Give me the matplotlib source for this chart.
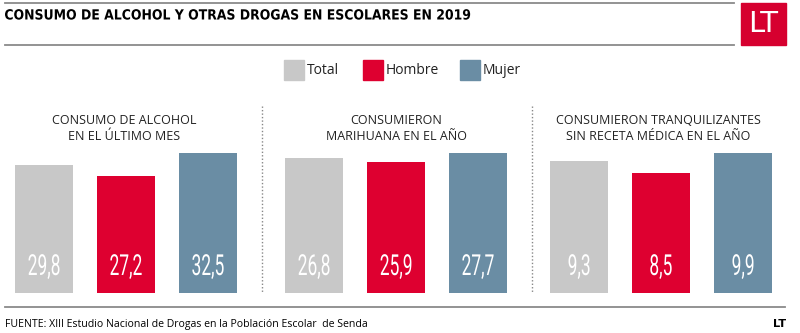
import matplotlib
matplotlib.use("Agg")
import matplotlib.pyplot as plt
from matplotlib.patches import Rectangle, PathPatch
from matplotlib.lines import Line2D
from matplotlib.textpath import TextPath
from matplotlib.font_manager import FontProperties
from matplotlib.transforms import Affine2D

# data
groups = ["Total", "Hombre", "Mujer"]
panel_titles = ["CONSUMO DE ALCOHOL\nEN EL ÚLTIMO MES",
                "CONSUMIERON\nMARIHUANA EN EL AÑO",
                "CONSUMIERON TRANQUILIZANTES\nSIN RECETA MÉDICA EN EL AÑO"]
alcohol = [29.8, 27.2, 32.5]
marihuana = [26.8, 25.9, 27.7]
tranquilizantes = [9.3, 8.5, 9.9]
panel_values = [alcohol, marihuana, tranquilizantes]
colors = ["#C8C8C8", "#DE0030", "#6A8DA4"]

W, H = 800, 333
fig = plt.figure(figsize=(W / 100, H / 100), dpi=100)


def fx(px):
    return px / W


def fy(py):
    return 1 - py / H


def hline(x0, x1, y, color="#8a8a8a", lw=1.3, ls="-"):
    fig.add_artist(Line2D([fx(x0), fx(x1)], [fy(y), fy(y)], color=color, lw=lw, ls=ls))


def narrow_text(s, x, base_y, size_px, xscale, color, family="DejaVu Sans",
                weight="normal", align="center"):
    # condensed lettering: scale a text path horizontally (pixel coords, y from top)
    tp = TextPath((0, 0), s, size=size_px, prop=FontProperties(family=family, weight=weight))
    ext = tp.get_extents()
    w = ext.width * xscale
    x0 = x - w / 2 if align == "center" else x
    tr = Affine2D().scale(xscale, 1).translate(x0 - ext.x0 * xscale, H - base_y)
    fig.add_artist(PathPatch(tp, transform=tr, color=color, lw=0))


# header
hline(5, 734, 3)
hline(5, 734, 45)
narrow_text("CONSUMO DE ALCOHOL Y OTRAS DROGAS EN ESCOLARES EN 2019", 5, 19.5, 14,
            0.89, "black", weight="bold", align="left")
fig.add_artist(Rectangle((fx(741), fy(45)), fx(45), 42 / H, color="#D6002F",
                         transform=fig.transFigure))
fig.text(fx(763.5), fy(24), "LT", color="white", fontsize=21, family="DejaVu Sans",
         ha="center", va="center")

# legend
leg_x = [284, 363, 460]
for lx, g, c in zip(leg_x, groups, colors):
    fig.add_artist(Rectangle((fx(lx), fy(80)), fx(20), 20 / H, color=c,
                             transform=fig.transFigure))
    fig.text(fx(lx + 23), fy(70.5), g, fontsize=10, family="Open Sans",
             va="center", ha="left", color="#222222")

# panels
panel_left = [15, 285, 550]
title_cx = [124, 396, 658]
for i in range(3):
    vals = panel_values[i]
    ax = fig.add_axes([fx(panel_left[i]), fy(293), fx(222), 140 / H])
    bars = ax.bar(range(3), vals, width=0.707, color=colors)
    ax.set_xlim(-0.354, 2.354)
    ax.set_ylim(0, max(vals))
    ax.axis("off")
    for j, v in enumerate(vals):
        cx = panel_left[i] + 222 * (j + 0.354) / 2.708
        narrow_text(("%.1f" % v).replace(".", ","), cx, 275, 29, 0.6, "white",
                    family="Roboto")
    fig.text(fx(title_cx[i]), fy(129), panel_titles[i], fontsize=9,
             family="Open Sans", ha="center", va="center", linespacing=1.3,
             color="#222222")

# dotted separators
for sx in [262, 532]:
    fig.add_artist(Line2D([fx(sx), fx(sx)], [fy(106), fy(292)], color="#888888",
                          lw=1, ls=(0, (1, 1.5))))

# footer
hline(5, 785, 307)
fig.text(fx(5), fy(324), "FUENTE: XIII Estudio Nacional de Drogas en la Población Escolar  de Senda",
         fontsize=7.6, family="Open Sans", va="center", ha="left", color="black")
fig.text(fx(786), fy(324), "LT", fontsize=8.2, fontweight="bold", family="DejaVu Sans",
         va="center", ha="right", color="black")

fig.savefig("out.png", dpi=100)
